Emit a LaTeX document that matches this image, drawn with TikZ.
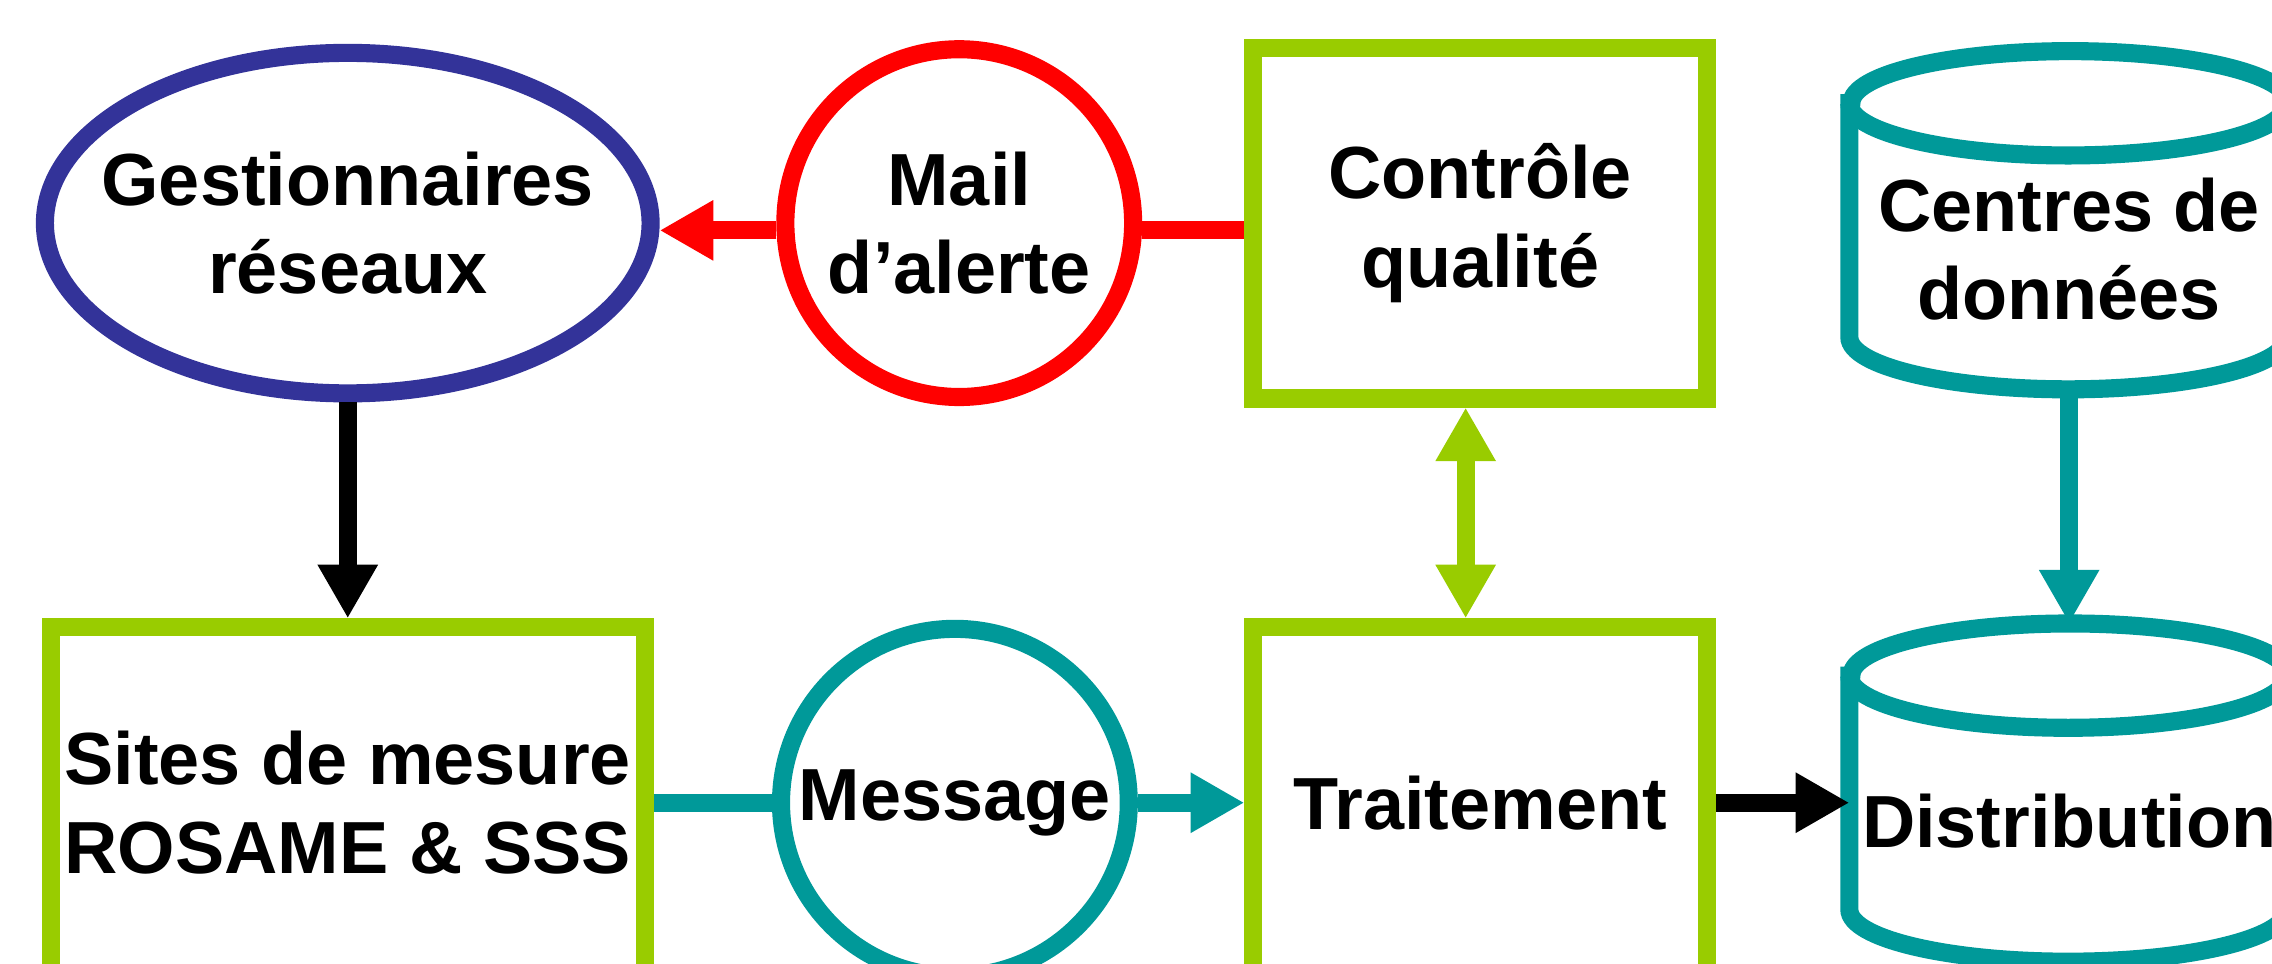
\documentclass[tikz,border=0pt]{standalone}
\usepackage{fontspec}
\setmainfont{Liberation Sans}
\usepackage{tikz}
\usetikzlibrary{shapes}
\usetikzlibrary{calc}
\usetikzlibrary{arrows.meta}
\definecolor{netblue}{HTML}{333399}
\definecolor{alertred}{HTML}{FF0000}
\definecolor{qcgreen}{HTML}{99CC00}
\definecolor{dbteal}{HTML}{009999}
\tikzstyle{lbl} = [font=\bfseries\fontsize{14.5}{17.4}\selectfont, align=center, inner sep=0pt]
\tikzstyle{greenbox} = [lbl, rectangle, draw=qcgreen, line width=1.25mm,
   minimum width=3.13cm, minimum height=2.42cm]
\tikzstyle{ring} = [lbl, circle, line width=1.25mm, minimum size=2.40cm]
\tikzstyle{canbox} = [rectangle, inner sep=0pt, minimum width=3.02cm, minimum height=2.32cm]
\tikzstyle{link} = [line width=1.25mm]
\tikzstyle{flow} = [link, -{Triangle[length=3.7mm,width=3.9mm]}]
% database can drawn round an empty canbox node
\newcommand{\drawcan}[1]{%
  \draw [link, dbteal, fill=white]
    ([yshift=-3.6mm]#1.north west) -- ([yshift=3.6mm]#1.south west)
    arc [start angle=180, end angle=360, x radius=15.1mm, y radius=3.6mm]
    -- ([yshift=-3.6mm]#1.north east)
    arc [start angle=0, end angle=180, x radius=15.1mm, y radius=3.6mm] -- cycle;
  \draw [link, dbteal] ([yshift=-3.6mm]#1.north west)
    arc [start angle=180, end angle=360, x radius=15.1mm, y radius=3.6mm];
}

\begin{document}
\begin{tikzpicture}
  \useasboundingbox (0,0) rectangle (15.68,-6.65);
  \clip (0,0) rectangle (15.68,-6.65);

  \node [ellipse, draw=netblue, line width=1.25mm, inner sep=0pt,
    minimum width=4.18cm, minimum height=2.35cm] (gest) at (2.40,-1.54) {};
  \node [lbl] (gestlbl) at (gest) {Gestionnaires\\réseaux};
  \node [ring, draw=alertred] (mail) at (6.62,-1.54) {Mail\\d’alerte};
  \node [greenbox] (ctrl) at (10.215,-1.54) {Contrôle\\qualité};
  \node [canbox] (centres) at (14.28,-1.52) {};
  \drawcan{centres}
  \node [lbl] (centreslbl) at (14.28,-1.72) {Centres de\\données};

  \node [greenbox, minimum width=4.10cm] (sites) at (2.40,-5.54) {Sites de mesure\\ROSAME \& SSS};
  \node [ring, draw=dbteal] (msg) at (6.59,-5.54) {Message};
  \node [greenbox] (trait) at (10.215,-5.54) {Traitement};
  \node [canbox] (dist) at (14.28,-5.47) {};
  \drawcan{dist}
  \node [lbl] (distlbl) at (14.28,-5.67) {Distribution};

  % the alert line runs a little below the middle of the top row
  \coordinate (alertrow) at (0,-1.59);
  \draw [link, alertred] (ctrl.west |- alertrow) -- (mail.east |- alertrow);
  \draw [flow, alertred] (mail.west |- alertrow) -- (gest.east |- alertrow);
  \draw [flow] (gest.south) -- (sites.north);
  \draw [link, dbteal] (sites.east) -- (msg.west);
  \draw [flow, dbteal] (msg.east) -- (trait.west);
  \draw [flow] (trait.east) -- (trait.east -| dist.west);
  \draw [flow, qcgreen, {Triangle[length=3.7mm,width=3.9mm]}-{Triangle[length=3.7mm,width=3.9mm]}]
    ([xshift=-1mm]ctrl.south) -- ([xshift=-1mm]trait.north);
  \draw [flow, dbteal] (centres.south) -- (dist.north);
\end{tikzpicture}
\end{document}
